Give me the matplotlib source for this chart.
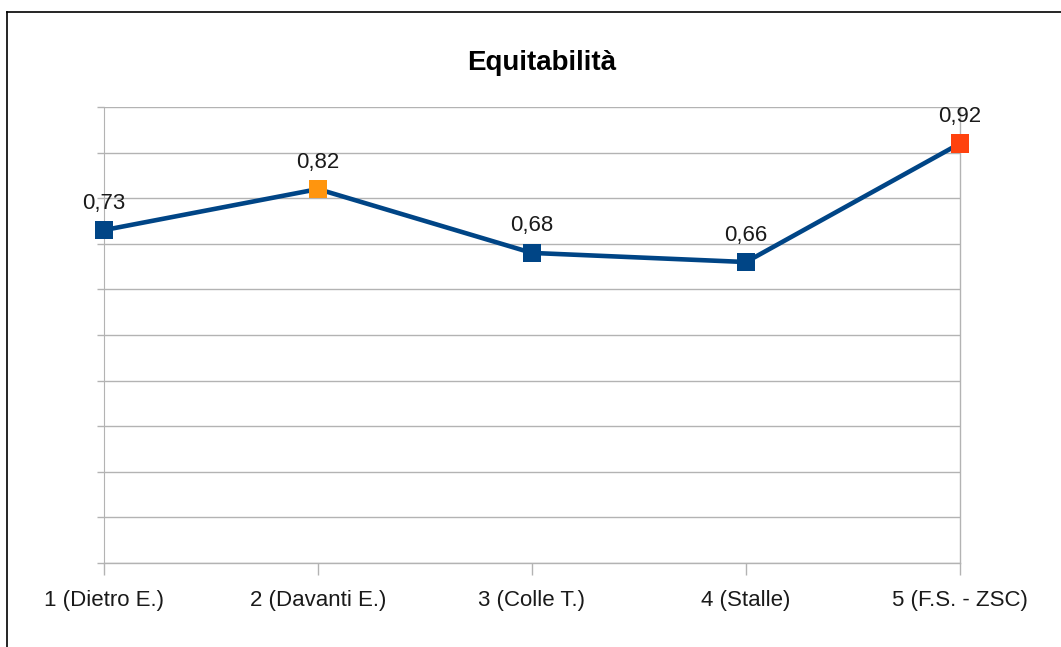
import matplotlib.pyplot as plt
from matplotlib.lines import Line2D

categories = ['1 (Dietro E.)', '2 (Davanti E.)', '3 (Colle T.)', '4 (Stalle)', '5 (F.S. - ZSC)']
values = [0.73, 0.82, 0.68, 0.66, 0.92]
labels = ['0,73', '0,82', '0,68', '0,66', '0,92']
point_colors = ['#004586', '#ff950e', '#004586', '#004586', '#ff420e']

plt.rcParams['font.family'] = ['Liberation Sans', 'DejaVu Sans']

fig = plt.figure(figsize=(10.61, 6.47), dpi=100)
ax = fig.add_axes([104 / 1061, 1 - 563 / 647, (960 - 104) / 1061, (563 - 107) / 647])

x = list(range(len(categories)))
ax.plot(x, values, color='#004586', lw=3.3, zorder=3, clip_on=False)
ax.scatter(x, values, marker='s', s=13.5 ** 2, c=point_colors, zorder=4,
           linewidths=0, clip_on=False)

for xi, v, lab in zip(x, values, labels):
    ax.annotate(lab, (xi, v), xytext=(0, 27), textcoords='offset pixels',
                ha='center', va='center', fontsize=16, color='#1a1a1a')

ax.set_xlim(0, len(categories) - 1)
ax.set_ylim(0, 1)
ax.set_yticks([i / 10 for i in range(11)])
ax.set_yticklabels([])
ax.set_xticks(x)
ax.set_xticklabels(categories, fontsize=16, color='#1a1a1a')
ax.tick_params(axis='x', length=8.6, width=1, color='#b3b3b3', pad=11)
ax.tick_params(axis='y', length=5, width=1, color='#b3b3b3')
ax.grid(axis='y', color='#b3b3b3', lw=1)
ax.axhline(0, color='#b3b3b3', lw=1, zorder=1, clip_on=False)
ax.axvline(len(categories) - 1, color='#b3b3b3', lw=1, zorder=1, clip_on=False)

for side in ['top', 'right', 'bottom']:
    ax.spines[side].set_visible(False)
ax.spines['left'].set_color('#b3b3b3')
ax.spines['left'].set_zorder(1)

fig.text(542 / 1061, 1 - 63 / 647, 'Equitabilità', ha='center', va='center',
         fontsize=20, fontweight='bold', color='black')

# black frame of the chart object
fig.add_artist(Line2D([7 / 1061, 7 / 1061], [0, 1 - 12 / 647], color='black', lw=1.2))
fig.add_artist(Line2D([7 / 1061, 1], [1 - 12 / 647, 1 - 12 / 647], color='black', lw=1.2))

fig.savefig('out.png', dpi=100)
